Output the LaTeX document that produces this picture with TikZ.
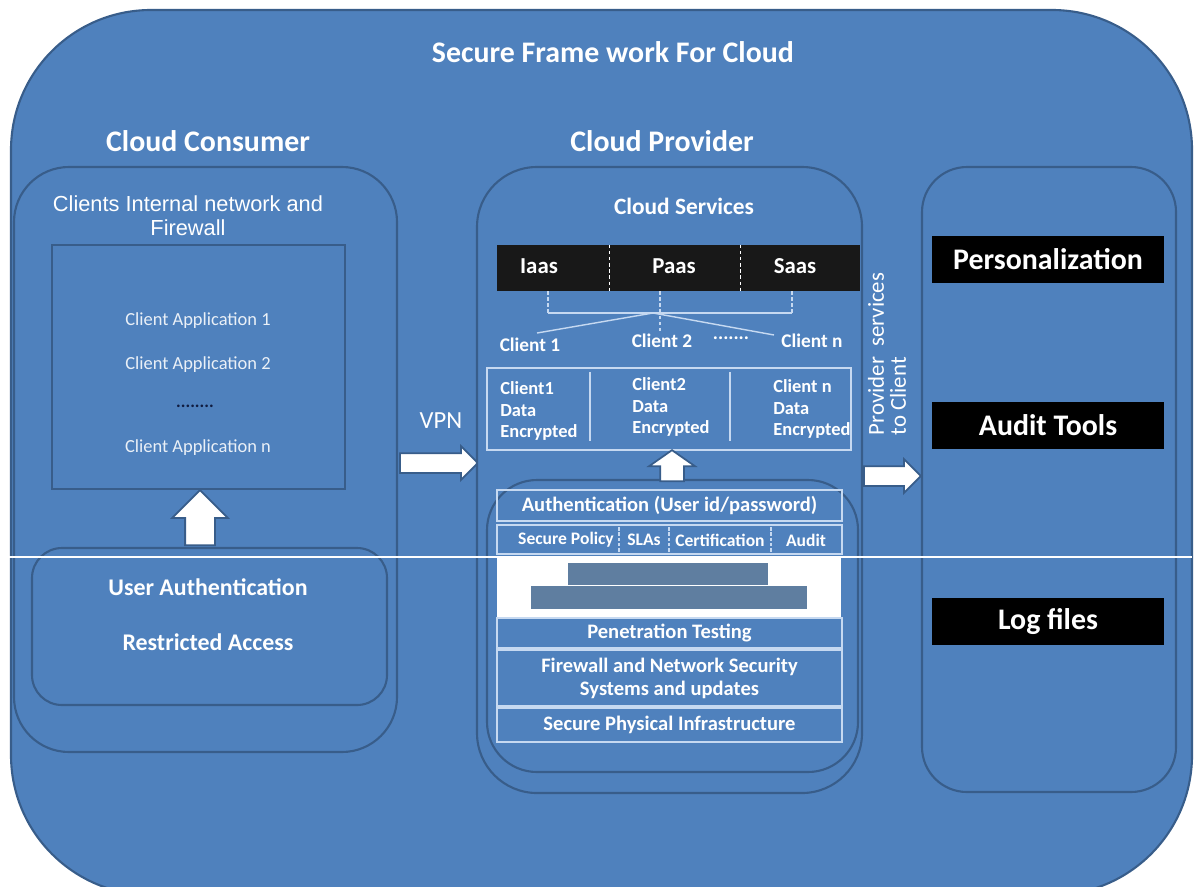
\documentclass[tikz,border=0pt]{standalone}
\usepackage{fontspec}
\setmainfont{Carlito}
\newfontfamily\arialfont{Liberation Sans}
\usetikzlibrary{positioning,fit,shapes.arrows,calc}
\definecolor{cloudblue}{RGB}{79,129,189}
\definecolor{edgeblue}{RGB}{56,93,138}
\definecolor{paleline}{RGB}{198,217,241}
\definecolor{maskgray}{RGB}{95,126,160}
\definecolor{dotnavy}{RGB}{16,28,64}
\definecolor{barblack}{RGB}{24,24,24}

\begin{document}
\begin{tikzpicture}[
    x=0.02cm, y=-0.02cm,
    panel/.style={rectangle, rounded corners=#1, draw=edgeblue, line width=1.2pt,
                  fill=cloudblue, inner sep=0pt},
    panel/.default=1.2cm,
    head/.style={text=white, inner sep=0pt, font=\fontsize{17}{20}\selectfont\bfseries},
    txt/.style={text=white, inner sep=0pt, align=center},
    layer/.style={rectangle, draw=paleline, line width=0.8pt, inner sep=0pt},
    layertext/.style={txt, font=\fontsize{11.7}{13}\selectfont\bfseries},
    cell/.style={rectangle, fill=barblack, inner sep=0pt},
    tag/.style={rectangle, fill=black, inner sep=0pt},
    tagtext/.style={txt, font=\fontsize{17}{19}\selectfont\bfseries},
    blockarrow/.style={single arrow, fill=white, draw=edgeblue, line width=1pt,
                       inner xsep=0pt, single arrow head extend=#1},
    link/.style={draw=paleline, line width=0.8pt},
    cut/.style={draw=white, line width=0.8pt, dash pattern=on 2pt off 1.5pt}
]
\useasboundingbox[fill=white] (0,0) rectangle (1195,886);

% Frame
\node[panel=2.8cm, fit={(11,10) (1192,895)}] (frame) {};
\node[head] (title) at (613,52) {Secure Frame work For Cloud};

% Consumer side
\node[head] (conshead) at (208,141) {Cloud Consumer};
\node[panel=1.1cm, fit={(14,167) (397,752)}] (consumer) {};
\node[txt, font=\arialfont\fontsize{12.4}{13.7}\selectfont] (firewall) at (188,216)
    {Clients Internal network and\\Firewall};
\node[rectangle, draw=edgeblue, line width=1.2pt, inner sep=0pt,
      fit={(52,245) (345,489)}] (apps) {};
\node[txt, text=white!88!cloudblue, font=\fontsize{10.5}{12}\selectfont] (app1) at (198,321) {Client Application 1};
\node[txt, text=white!88!cloudblue, font=\fontsize{10.5}{12}\selectfont] (app2) at (198,365) {Client Application 2};
\node[text=dotnavy, inner sep=0pt, font=\bfseries] (appdots) at (195,406) {........};
\node[txt, text=white!88!cloudblue, font=\fontsize{10.5}{12}\selectfont] (appn) at (198,448) {Client Application n};
\node[panel=0.6cm, fit={(32,548) (387,705)}] (userauth) {};
\node[txt, font=\fontsize{13.6}{16}\selectfont\bfseries] (uauth) at (208,587) {User Authentication};
\node[txt, font=\fontsize{13.6}{16}\selectfont\bfseries] (uaccess) at (208,642) {Restricted Access};
\node[blockarrow=0.26cm, rotate=90, minimum height=1.1cm, inner ysep=0.28cm,
      anchor=tail] (authup) at (200,546) {};

% VPN link
\node[txt, font=\fontsize{14}{16}\selectfont] (vpn) at (441,421) {VPN};
\node[blockarrow=0.14cm, minimum height=1.56cm, inner ysep=0.18cm,
      anchor=tail] (vpnarrow) at (399,463) {};

% Provider side
\node[head] (provhead) at (662,141) {Cloud Provider};
\node[panel=1.2cm, fit={(477,167) (862,793)}] (provider) {};
\node[txt, font=\fontsize{13.3}{15}\selectfont\bfseries] (services) at (684,206) {Cloud Services};
\node[cell, fit={(497,245) (609,291)}] (iaas) {};
\node[cell, fit={(609,245) (740,291)}] (paas) {};
\node[cell, fit={(740,245) (860,291)}] (saas) {};
\node[txt, font=\fontsize{13}{15}\selectfont\bfseries] (iaaslbl) at (539,266) {Iaas};
\node[txt, font=\fontsize{13}{15}\selectfont\bfseries] (paaslbl) at (674,266) {Paas};
\node[txt, font=\fontsize{13}{15}\selectfont\bfseries] (saaslbl) at (795,266) {Saas};
\draw[cut] (iaas.north east) -- (iaas.south east);
\draw[cut] (paas.north east) -- (paas.south east);

% Service fan-out
\coordinate (fork) at (653,313);
\coordinate (toclient1) at (537,333);
\coordinate (toclientn) at (774,335);
\draw[link, dash pattern=on 2pt off 1.5pt] (548,291) -- (548,313);
\draw[link, dash pattern=on 2pt off 1.5pt] (660,291) -- (660,333);
\draw[link, dash pattern=on 2pt off 1.5pt] (792,291) -- (792,313);
\draw[link] (548,313) -- (792,313);
\node[txt, font=\fontsize{11}{13}\selectfont\bfseries] (client1) at (530,345) {Client 1};
\node[txt, font=\fontsize{11}{13}\selectfont\bfseries] (client2) at (662,341) {Client 2};
\node[txt, font=\fontsize{11}{13}\selectfont\bfseries] (clientdots) at (731,338) {.......};
\node[txt, font=\fontsize{11}{13}\selectfont\bfseries] (clientn) at (812,341) {Client n};
\draw[link] (fork) -- (toclient1);
\draw[link] (fork) -- (toclientn);

% Encrypted client data
\node[layer, fit={(487,368) (851,450)}] (clientdata) {};
\draw[link] (590,372) -- (590,441);
\draw[link] (730,372) -- (730,441);
\node[txt, align=left, anchor=west, font=\fontsize{10.5}{12.2}\selectfont\bfseries] (data1) at (500,411) {Client1\\Data\\Encrypted};
\node[txt, align=left, anchor=west, font=\fontsize{10.5}{12.2}\selectfont\bfseries] (data2) at (632,407) {Client2\\Data\\Encrypted};
\node[txt, align=left, anchor=west, font=\fontsize{10.5}{12.2}\selectfont\bfseries] (datan) at (773,409) {Client n\\Data\\Encrypted};

% Security layers
\node[panel=1cm, fit={(487,480) (858,772)}] (stack) {};
\node[blockarrow=0.22cm, rotate=90, minimum height=0.62cm, inner ysep=0.22cm,
      single arrow tip angle=110, anchor=tail] (stackup) at (672,482) {};
\node[layer, fit={(497,490) (842,521)}] (auth) {};
\node[layertext] (authtxt) at (auth) {Authentication (User id/password)};
\node[layer, fit={(497,525) (842,554)}] (policy) {};
\node[txt, font=\fontsize{10}{12}\selectfont\bfseries] (securepol) at (566,540) {Secure Policy};
\node[txt, font=\fontsize{10}{12}\selectfont\bfseries] (slas) at (644,540) {SLAs};
\node[txt, font=\fontsize{10}{12}\selectfont\bfseries] (certif) at (720,540) {Certification};
\node[txt, font=\fontsize{10}{12}\selectfont\bfseries] (audit) at (806,540) {Audit};
\draw[link, dash pattern=on 2pt off 1pt] (619,527) -- (619,552);
\draw[link, dash pattern=on 2pt off 1pt] (669,527) -- (669,552);
\draw[link, dash pattern=on 2pt off 1pt] (771,527) -- (771,552);
\node[layer, fit={(497,618) (842,648)}] (pentest) {};
\node[layertext] (pentesttxt) at (pentest) {Penetration Testing};
\node[layer, fit={(497,650) (842,706)}] (netsec) {};
\node[layertext] (netsectxt) at (netsec) {Firewall and Network Security\\Systems and updates};
\node[layer, fit={(497,708) (842,742)}] (physical) {};
\node[layertext] (physicaltxt) at (physical) {Secure Physical Infrastructure};

% Tools side
\node[txt, rotate=90, align=left, font=\fontsize{13}{12.5}\selectfont] (provnote) at (887,354)
    {Provider\ \ services\\to Client};
\node[blockarrow=0.14cm, minimum height=1.14cm, inner ysep=0.18cm,
      anchor=tail] (toolsarrow) at (863,476) {};
\node[panel=0.9cm, fit={(922,167) (1176,792)}] (tools) {};
\node[tag, fit={(932,236) (1164,283)}] (personal) {};
\node[tagtext] (personaltxt) at (personal) {Personalization};
\node[tag, fit={(932,402) (1164,449)}] (audittools) {};
\node[tagtext] (audittxt) at (audittools) {Audit Tools};
\node[tag, fit={(932,598) (1164,645)}] (logfiles) {};
\node[tagtext] (logtxt) at (logfiles) {Log files};

% Scan seam and masked band
\draw[white, line width=1pt] (5,557) -- (1192,557);
\node[rectangle, fill=white, inner sep=0pt, fit={(497,558) (841,617)}] (mask) {};
\fill[maskgray] (568,563) rectangle (768,585);
\fill[maskgray] (531,586) rectangle (807,609);
\end{tikzpicture}
\end{document}
